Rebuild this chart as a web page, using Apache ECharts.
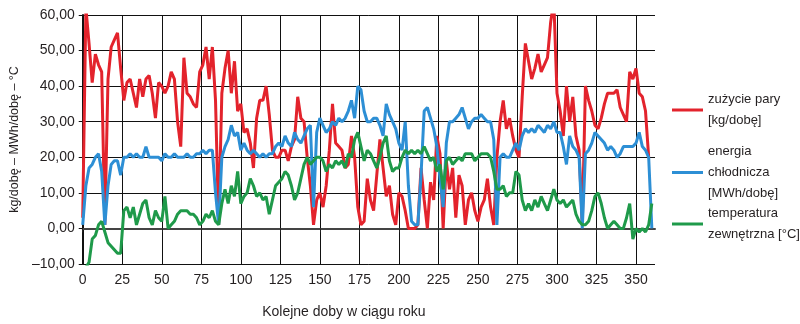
<!DOCTYPE html>
<html>
<head>
<meta charset="utf-8">
<script src="https://cdn.jsdelivr.net/npm/echarts@6/dist/echarts.min.js"></script>
<style>
  html, body { margin: 0; padding: 0; background: #fff; }
  #chart { width: 800px; height: 324px; }
</style>
</head>
<body>
<div id="chart"></div>
<script>
// kolejne doby (co druga doba)
var days = [
  0, 2, 4, 6, 8, 10, 12, 14, 16, 18, 20, 22, 24, 26, 28, 30, 32, 34, 36, 38,
  40, 42, 44, 46, 48, 50, 52, 54, 56, 58, 60, 62, 64, 66, 68, 70, 72, 74, 76, 78,
  80, 82, 84, 86, 88, 90, 92, 94, 96, 98, 100, 102, 104, 106, 108, 110, 112, 114, 116, 118,
  120, 122, 124, 126, 128, 130, 132, 134, 136, 138, 140, 142, 144, 146, 148, 150, 152, 154, 156, 158,
  160, 162, 164, 166, 168, 170, 172, 174, 176, 178, 180, 182, 184, 186, 188, 190, 192, 194, 196, 198,
  200, 202, 204, 206, 208, 210, 212, 214, 216, 218, 220, 222, 224, 226, 228, 230, 232, 234, 236, 238,
  240, 242, 244, 246, 248, 250, 252, 254, 256, 258, 260, 262, 264, 266, 268, 270, 272, 274, 276, 278,
  280, 282, 284, 286, 288, 290, 292, 294, 296, 298, 300, 302, 304, 306, 308, 310, 312, 314, 316, 318,
  320, 322, 324, 326, 328, 330, 332, 334, 336, 338, 340, 342, 344, 346, 348, 350, 352, 354, 356, 358,
  360
]

// zużycie pary [kg/dobę]
var steam = [
  3, 62, 52, 41, 49, 46, 44, 1, 42, 51, 53, 55, 45, 36, 41, 42, 38, 34, 42, 37,
  42, 43, 38, 31, 41, 40, 38, 40, 44, 42, 30, 23, 48, 38, 37, 35, 34, 44, 46, 51,
  42, 51, 36, 1, 38, 45, 50, 38, 47, 33, 35, 27, 28, 24, 17, 31, 36, 36, 40, 32,
  22, 20, 20, 22, 22, 19, 23, 25, 37, 31, 30, 20, 12, 1, 8, 10, 6, 12, 22, 35,
  24, 23, 22, 17, 18, 26, 20, 6, 1, 2, 14, 8, 5, 15, 25, 17, 9, 12, 4, 1,
  10, 9, 5, 0, 0, 0, 1, 17, 8, 0, 13, 8, 26, 21, 0, 19, 11, 17, 3, 15,
  12, 1, 8, 10, 5, 2, 6, 8, 14, 6, 1, 20, 30, 36, 28, 31, 26, 22, 20, 37,
  52, 47, 42, 45, 49, 44, 46, 48, 58, 64, 38, 33, 26, 40, 30, 37, 26, 22, 1, 40,
  36, 33, 29, 28, 31, 35, 38, 38, 38, 39, 34, 32, 30, 44, 42, 45, 38, 37, 33, 20,
  null
]

// energia chłodnicza [MWh/dobę]
var cooling = [
  1, 12, 17, 18, 20, 21, 16, 1, 12, 18, 19, 19, 15, 20, 20, 21, 20, 21, 20, 20,
  23, 20, 20, 20, 20, 19, 21, 20, 20, 21, 20, 20, 20, 21, 20, 20, 21, 21, 22, 21,
  22, 22, 10, 1, 20, 23, 25, 29, 26, 27, 22, 24, 22, 21, 22, 21, 20, 21, 20, 21,
  21, 23, 24, 23, 26, 24, 23, 27, 25, 24, 26, 28, 29, 6, 27, 31, 29, 27, 28, 30,
  29, 31, 30, 31, 33, 36, 31, 40, 39, 33, 30, 30, 31, 31, 29, 26, 35, 32, 30, 28,
  24, 22, 30, 12, 2, 1, 1, 15, 33, 34, 31, 28, 23, 14, 6, 24, 30, 30, 31, 32,
  34, 31, 28, 30, 31, 31, 32, 31, 30, 30, 25, 1, 20, 21, 20, 20, 22, 24, 22, 26,
  28, 27, 28, 27, 29, 28, 27, 29, 28, 30, 27, 27, 23, 18, 26, 23, 22, 20, 0, 21,
  22, 24, 27, 26, 25, 24, 22, 23, 22, 20, 21, 23, 23, 23, 23, 24, 27, 23, 22, 20,
  0
]

// temperatura zewnętrzna [°C]
var temperature = [
  -12, -11, -9.5, -3, -2, 1, 2, -1, -4, -5, -6, -7, -7, 5, 6, 3, 6, 1, 4, 7,
  8, 3, 1, 5, 3, 2, 9, 0, 1, 2, 4, 5, 5, 5, 4, 4, 3, 1, 2, 4,
  3, 5, 2, 1, 7, 11, 7, 12, 9, 16, 7, 9, 10, 14, 12, 9, 10, 8, 9, 4,
  8, 12, 13, 14, 16, 15, 12, 8, 10, 14, 18, 20, 18, 19, 20, 20, 19, 16, 18, 17,
  19, 18, 19, 17, 21, 20, 25, 27, 23, 19, 22, 21, 19, 17, 20, 24, 26, 19, 16, 17,
  17, 20, 22, 21, 22, 21, 22, 21, 23, 21, 19, 20, 16, 18, 11, 19, 20, 18, 19, 20,
  19, 21, 21, 21, 19, 20, 21, 21, 21, 20, 16, 11, 11, 12, 9, 10, 10, 16, 15, 8,
  5, 7, 5, 8, 6, 9, 7, 5, 8, 11, 8, 7, 8, 6, 7, 8, 4, 2, 1, 1,
  2, 5, 9, 10, 7, 3, 0, 1, 2, 1, 0, 0, 3, 7, -3, 0, -1, 0, -1, 1,
  7
]

var xTicks = [0, 25, 50, 75, 100, 125, 150, 175, 200, 225, 250, 275, 300, 325, 350]

var names = [
  'zużycie pary\n[kg/dobę]',
  'energia\nchłodnicza\n[MWh/dobę]',
  'temperatura\nzewnętrzna [°C]'
]
var colors = ['#e3232c', '#2d8fd5', '#1f9a4a']

var font = "'Liberation Sans', Arial, sans-serif"

function pairs(vals) {
  return days.map(function (d, i) { return [d, vals[i]] })
}

function legendAt(name, top) {
  return {
    data: [name],
    orient: 'vertical',
    left: 667,
    top: top,
    icon: 'rect',
    itemWidth: 31,
    itemHeight: 3,
    selectedMode: false,
    textStyle: { fontFamily: font, fontSize: 13, color: '#231f20', lineHeight: 21 }
  }
}

var chart = echarts.init(document.getElementById('chart'), null, { renderer: 'canvas' })

chart.setOption({
  animation: false,
  color: colors,
  textStyle: { fontFamily: font },
  grid: { left: 81, right: 145, top: 15, bottom: 59 },
  legend: [
    legendAt(names[0], 84),
    legendAt(names[1], 136),
    legendAt(names[2], 198)
  ],
  xAxis: {
    type: 'value',
    min: 0,
    max: 362,
    interval: 25,
    name: 'Kolejne doby w ciągu roku',
    nameLocation: 'middle',
    nameGap: 41,
    nameTextStyle: { fontFamily: font, fontSize: 14, color: '#231f20', padding: [0, 50, 0, 0] },
    axisLine: { lineStyle: { color: '#444', width: 2 } },
    axisTick: { show: true, length: 4, lineStyle: { color: '#222' } },
    axisLabel: {
      fontFamily: font, fontSize: 14, color: '#231f20', margin: 9,
      showMaxLabel: false,
      formatter: function (v) { return xTicks.indexOf(v) >= 0 ? String(v) : '' }
    },
    splitLine: { show: true, showMaxLine: false, lineStyle: { color: '#111', width: 1 } }
  },
  yAxis: {
    type: 'value',
    min: -10,
    max: 60,
    interval: 10,
    name: 'kg/dobę – MWh/dobę – °C',
    nameLocation: 'middle',
    nameGap: 57,
    nameTextStyle: { fontFamily: font, fontSize: 12.5, color: '#231f20' },
    axisLine: { show: true, lineStyle: { color: '#111', width: 2 } },
    axisTick: { show: true, length: 4, lineStyle: { color: '#111' } },
    axisLabel: {
      fontFamily: font, fontSize: 14, color: '#231f20', margin: 8,
      formatter: function (v) {
        var s = Math.abs(v).toFixed(2).replace('.', ',')
        return v < 0 ? '\u2013' + s : s
      }
    },
    splitLine: { show: true, lineStyle: { color: '#111', width: 1 } }
  },
  series: [
    {
      name: names[0], type: 'line', data: pairs(steam),
      showSymbol: false, connectNulls: false,
      lineStyle: { width: 3, color: colors[0] }
    },
    {
      name: names[1], type: 'line', data: pairs(cooling),
      showSymbol: false,
      lineStyle: { width: 3, color: colors[1] }
    },
    {
      name: names[2], type: 'line', data: pairs(temperature),
      showSymbol: false,
      lineStyle: { width: 3, color: colors[2] }
    }
  ]
})
</script>
</body>
</html>
